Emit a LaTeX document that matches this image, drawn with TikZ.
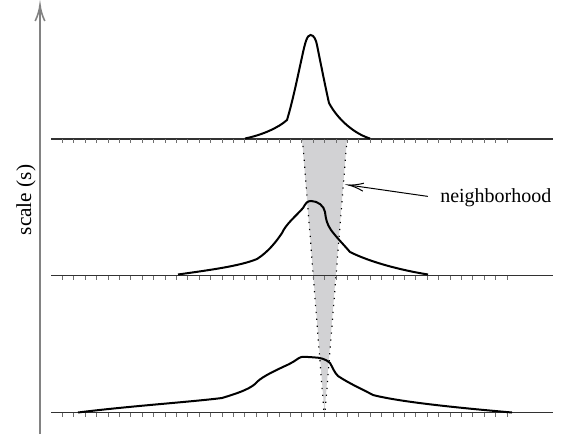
\documentclass[tikz,border=0pt]{standalone}
\usepackage{fontspec}
\setmainfont{Liberation Serif}
\begin{document}
\begin{tikzpicture}[x=0.75pt,y=0.75pt,yscale=-1,xscale=1]
			\useasboundingbox (0,0) rectangle (577,435);
			
			%Shape: Polygon [id:neighborhood wedge] 
			\draw  [draw opacity=0][fill={rgb, 255:red, 210; green, 210; blue, 212 }  ] (302,139) -- (347,139) -- (324.5,412.5) -- cycle ;
			%Straight Lines [id:dotted left] 
			\draw  [line width=0.9][dash pattern={on 0.9pt off 4.3pt}]  (302.5,139) -- (324,412.5) ;
			%Straight Lines [id:dotted right] 
			\draw  [line width=0.9][dash pattern={on 0.9pt off 4.3pt}]  (347,139) -- (325,412.5) ;
			
			%Straight Lines [id:scale axis] 
			\coordinate (axbot) at (40,434);
			\coordinate (axtop) at (40,5);
			\draw [color={rgb, 255:red, 130; green, 130; blue, 130 }  ][line width=1.5]    (axbot) -- (axtop) ;
			\draw [shift={(axtop)}, rotate = 90] [color={rgb, 255:red, 130; green, 130; blue, 130 }  ][line width=1.2]    (16,-4.8) .. controls (10,-2) and (4.8,-0.5) .. (0,0) .. controls (4.8,0.5) and (10,2) .. (16,4.8)   ;
			
			%Straight Lines [id:base lines with ticks] 
			\foreach \yb in {139,275.5,412.5}{
				\draw [color={rgb, 255:red, 50; green, 50; blue, 50 }  ][line width=1]    (51,\yb) -- (553,\yb) ;
				\foreach \i in {0,...,39}
					\draw [color={rgb, 255:red, 110; green, 110; blue, 110 }  ][line width=0.75]    ({62.5+11.4*\i},\yb) -- ({62.5+11.4*\i},{\yb+4}) ;
			}
			
			%Curve Lines [id:top response] 
			\draw [line width=1.5]    (245,138.5) .. controls (262,135) and (278,128) .. (287,120) .. controls (293,100) and (298,75) .. (302,57) .. controls (305,43) and (307,35) .. (310.5,35) .. controls (314,35) and (316,40) .. (317,45) .. controls (320,60) and (326,90) .. (329,103) .. controls (338,120) and (355,134) .. (370,138.5) ;
			%Curve Lines [id:middle response] 
			\draw [line width=1.5]    (178,274.5) .. controls (210,270) and (240,266) .. (257,259) .. controls (268,252) and (276,242) .. (282,233) .. controls (286,224) and (296,216) .. (303,208) .. controls (306,203) and (307,201) .. (311,201) .. controls (318,201) and (324,206) .. (325,212) .. controls (326,220) and (327,224) .. (331,230) .. controls (337,238) and (344,245) .. (350,252) .. controls (370,262) and (400,270) .. (428,274.5) ;
			%Curve Lines [id:bottom response] 
			\draw [line width=1.5]    (78,412.5) .. controls (130,406) and (190,402) .. (222,398) .. controls (235,394) and (248,390) .. (255,384) .. controls (260,378) and (270,373) .. (285,366) .. controls (292,363) and (296,360) .. (299,358) .. controls (302,356) and (306,357) .. (313,357.3) .. controls (320,357.5) and (326,359) .. (330,363) .. controls (333,368) and (334,372) .. (338,376) .. controls (350,384) and (362,389) .. (373,395) .. controls (400,402) and (460,408) .. (512,412.5) ;
			
			% Text Node
			\draw (26,200) node [rotate=90][inner sep=0.75pt]  (scalelbl) {\fontsize{16}{19}\selectfont scale (s)};
			% Text Node
			\draw (439,198) node [anchor=west][inner sep=0.75pt]  (nbh) {\fontsize{15}{18}\selectfont neighborhood};
			
			%Straight Lines [id:neighborhood arrow] 
			\coordinate (nbhtip) at (348.5,185);
			\draw [line width=0.75] [shorten <=8.5pt]   (nbh.west) -- (nbhtip) ;
			\draw [shift={(nbhtip)}, rotate = 8.24] [line width=0.75]    (15,-4) .. controls (9.5,-1.7) and (4.5,-0.4) .. (0,0) .. controls (4.5,0.4) and (9.5,1.7) .. (15,4)   ;
		\end{tikzpicture}
\end{document}
